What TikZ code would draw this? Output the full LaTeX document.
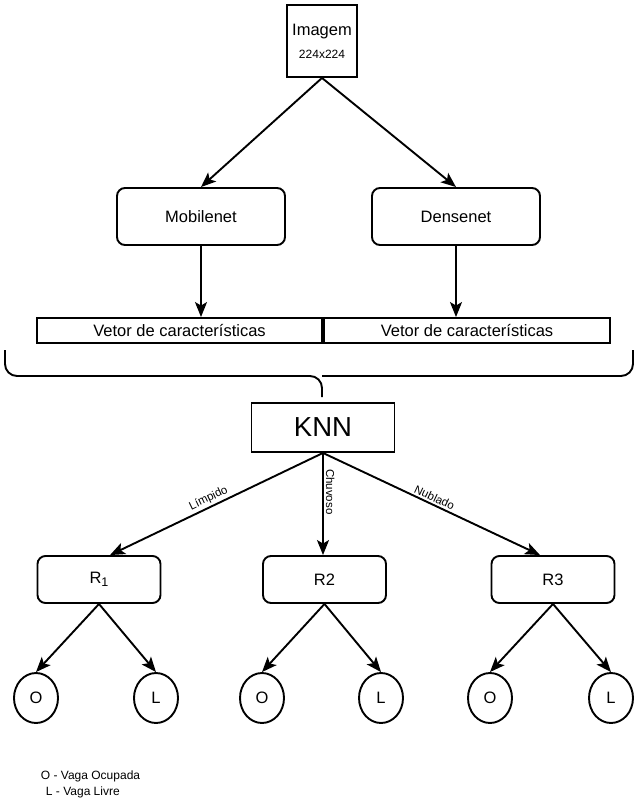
\documentclass[tikz,border=0pt]{standalone}
\usepackage{fontspec}
\setmainfont{Liberation Sans}
\usetikzlibrary{arrows.meta,calc,shapes.geometric}
\begin{document}
\begin{tikzpicture}[x=1pt,y=-1pt,
  line width=1.9pt,
  arr/.style={-{Stealth[length=15pt,width=12pt,inset=3.5pt]}},
  sq/.style={draw, minimum width=70pt, minimum height=72pt, inner sep=0pt, align=center, font=\fontsize{16.5}{20}\selectfont},
  net/.style={draw, rounded corners=8pt, minimum width=168pt, minimum height=57pt, font=\fontsize{16.5}{20}\selectfont},
  vec/.style={draw, minimum height=25pt, inner sep=0pt, font=\fontsize{16.5}{20}\selectfont},
  knn/.style={draw, minimum width=143pt, minimum height=49pt, font=\fontsize{27.5}{30}\selectfont},
  rbox/.style={draw, rounded corners=8pt, minimum width=123pt, minimum height=47pt, font=\fontsize{16.5}{20}\selectfont},
  leaf/.style={draw, ellipse, minimum width=44pt, minimum height=50pt, inner sep=0pt, font=\fontsize{16.5}{20}\selectfont},
  elab/.style={font=\fontsize{11.5}{13}\selectfont, inner sep=2pt},
  legend/.style={font=\fontsize{12}{14}\selectfont, anchor=west, inner sep=0pt}
]
\useasboundingbox (0,0) rectangle (638,802);

\node[sq] (img) at (322,41) {Imagem\\[3pt]{\fontsize{12}{14}\selectfont 224x224}};
\node[net] (mob) at (201,216.5) {Mobilenet};
\node[net] (den) at (456,216.5) {Densenet};
\node[vec, minimum width=285pt] (v1) at (179.5,330.5) {Vetor de características};
\node[vec, minimum width=286pt] (v2) at (467,330.5) {Vetor de características};

\draw[arr] (img.south) -- (mob.north);
\draw[arr] (img.south) -- (den.north);
\draw[arr] (mob.south) -- (mob.south |- v1.north);
\draw[arr] (den.south) -- (den.south |- v2.north);

% brace
\draw[rounded corners=12pt] (5,350) -- (5,376) -- (322,376) -- (322,397);
\draw[rounded corners=12pt] (633,350) -- (633,376) -- (322,376);

\node[knn] (knn) at (323,427.5) {KNN};

\node[rbox] (r1) at (99,579.5) {R\raisebox{-3.5pt}{\fontsize{12.5}{14}\selectfont 1}};
\node[rbox] (r2) at (324.5,579.5) {R2};
\node[rbox] (r3) at (553,579.5) {R3};

\draw[arr] (knn.south) -- node[pos=0.52, sloped, above, elab] {Límpido} ($(r1.north)+(11,0)$);
\draw[arr] (knn.south) -- node[pos=0.38, rotate=-90, anchor=south, elab] {Chuvoso} (knn.south |- r2.north);
\draw[arr] (knn.south) -- node[pos=0.5, sloped, above, elab] {Nublado} ($(r3.north)+(-13,0)$);

\node[leaf] (o1) at (36,698) {O};
\node[leaf] (l1) at (156,698) {L};
\node[leaf] (o2) at (262,698) {O};
\node[leaf] (l2) at (381,698) {L};
\node[leaf] (o3) at (490,698) {O};
\node[leaf] (l3) at (611,698) {L};

\draw[arr] (r1.south) -- (o1.north);
\draw[arr] (r1.south) -- (l1.north);
\draw[arr] (r2.south) -- (o2.north);
\draw[arr] (r2.south) -- (l2.north);
\draw[arr] (r3.south) -- (o3.north);
\draw[arr] (r3.south) -- (l3.north);

\node[legend] (lg1) at (40,776) {O - Vaga Ocupada};
\node[legend] (lg2) at (45,792) {L - Vaga Livre};
\end{tikzpicture}
\end{document}
